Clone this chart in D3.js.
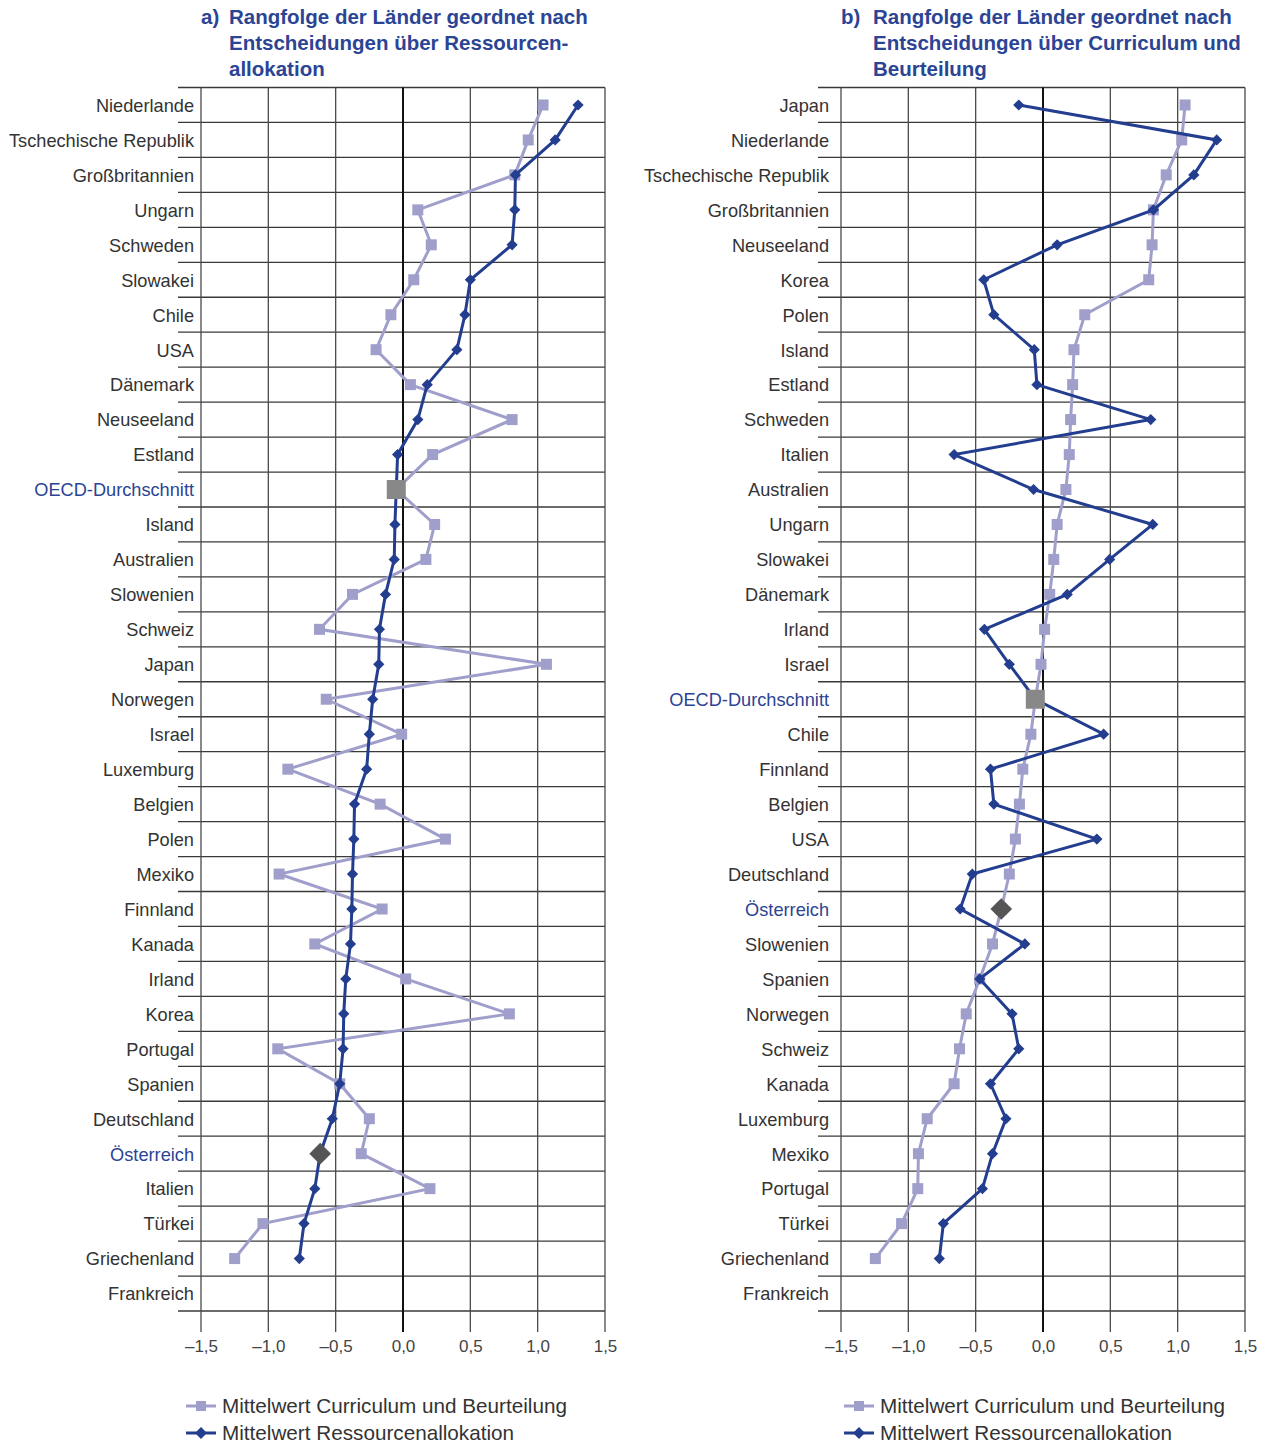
<!DOCTYPE html>
<html>
<head>
<meta charset="utf-8">
<script src="https://cdn.jsdelivr.net/npm/d3@7"></script>
<style>
  body { margin: 0; background: #fff; }
  svg { font-family: "Liberation Sans", Arial, sans-serif; }
</style>
</head>
<body>
<div id="chart"></div>
<script>
// panel a: ordered by Ressourcenallokation
const countriesA = ['Niederlande', 'Tschechische Republik', 'Großbritannien', 'Ungarn', 'Schweden', 'Slowakei',
  'Chile', 'USA', 'Dänemark', 'Neuseeland', 'Estland', 'OECD-Durchschnitt', 'Island', 'Australien', 'Slowenien',
  'Schweiz', 'Japan', 'Norwegen', 'Israel', 'Luxemburg', 'Belgien', 'Polen', 'Mexiko', 'Finnland', 'Kanada',
  'Irland', 'Korea', 'Portugal', 'Spanien', 'Deutschland', 'Österreich', 'Italien', 'Türkei', 'Griechenland', 'Frankreich'];
const curriculumA = [1.04, 0.93, 0.83, 0.11, 0.21, 0.08, -0.09, -0.20, 0.055, 0.81, 0.22, -0.05, 0.235, 0.17, -0.375,
  -0.62, 1.065, -0.57, -0.01, -0.855, -0.17, 0.315, -0.92, -0.155, -0.655, 0.02, 0.79, -0.93, -0.47, -0.25,
  -0.31, 0.20, -1.04, -1.25, null];
const ressourcenA = [1.30, 1.13, 0.835, 0.83, 0.81, 0.50, 0.46, 0.40, 0.18, 0.11, -0.04, -0.05, -0.06, -0.065, -0.13,
  -0.175, -0.18, -0.225, -0.25, -0.27, -0.36, -0.365, -0.375, -0.38, -0.39, -0.425, -0.44, -0.445, -0.47, -0.525,
  -0.615, -0.655, -0.735, -0.77, null];

// panel b: ordered by Curriculum und Beurteilung
const countriesB = ['Japan', 'Niederlande', 'Tschechische Republik', 'Großbritannien', 'Neuseeland', 'Korea', 'Polen',
  'Island', 'Estland', 'Schweden', 'Italien', 'Australien', 'Ungarn', 'Slowakei', 'Dänemark', 'Irland', 'Israel',
  'OECD-Durchschnitt', 'Chile', 'Finnland', 'Belgien', 'USA', 'Deutschland', 'Österreich', 'Slowenien', 'Spanien',
  'Norwegen', 'Schweiz', 'Kanada', 'Luxemburg', 'Mexiko', 'Portugal', 'Türkei', 'Griechenland', 'Frankreich'];
const curriculumB = [1.055, 1.03, 0.915, 0.82, 0.81, 0.785, 0.31, 0.23, 0.22, 0.205, 0.195, 0.17, 0.105, 0.08, 0.05,
  0.012, -0.015, -0.057, -0.09, -0.15, -0.175, -0.205, -0.25, -0.31, -0.375, -0.47, -0.57, -0.62, -0.66, -0.86,
  -0.925, -0.93, -1.05, -1.245, null];
const ressourcenB = [-0.18, 1.29, 1.12, 0.82, 0.105, -0.44, -0.365, -0.065, -0.045, 0.80, -0.66, -0.07, 0.815, 0.495,
  0.18, -0.435, -0.25, -0.057, 0.45, -0.39, -0.365, 0.40, -0.525, -0.615, -0.135, -0.47, -0.23, -0.18, -0.39, -0.275,
  -0.375, -0.45, -0.74, -0.77, null];

const xTicks = [-1.5, -1.0, -0.5, 0, 0.5, 1.0, 1.5];
const legendLabels = ['Mittelwert Curriculum und Beurteilung', 'Mittelwert Ressourcenallokation'];

const width = 1270, height = 1445;
const plotTop = 87.5, plotBottom = 1311;
const lightColor = '#a09fcb', darkColor = '#233d8f', blueText = '#2b4494', textColor = '#333';

const svg = d3.select('#chart').append('svg')
  .attr('width', width).attr('height', height);

const fmt = v => (v < 0 ? '\u2013' : '') + d3.format('.1f')(Math.abs(v)).replace('.', ',');

function drawPanel(p) {
  const x = d3.scaleLinear().domain([-1.5, 1.5]).range([p.left, p.left + 404]);
  const y = d3.scaleBand().domain(p.cats).range([plotTop, plotBottom]);
  const g = svg.append('g');

  // title
  const title = g.append('text').attr('fill', blueText).style('font-size', '20.5px').style('font-weight', 'bold');
  title.append('tspan').attr('x', p.left).attr('y', 24).text(p.letter);
  p.title.forEach((t, i) => {
    title.append('tspan').attr('x', p.left + p.titleOff).attr('y', 24 + i * 26).text(t);
  });

  // horizontal row lines
  const rowEdges = p.cats.map(c => y(c)).concat([plotBottom]);
  g.selectAll('.hline').data(rowEdges).enter().append('line')
    .attr('x1', p.left - 23).attr('x2', x(1.5))
    .attr('y1', d => d).attr('y2', d => d)
    .attr('stroke', '#3a3a3a').attr('stroke-width', 1.3);

  // vertical grid lines + ticks
  g.selectAll('.vline').data(xTicks).enter().append('line')
    .attr('x1', d => x(d)).attr('x2', d => x(d))
    .attr('y1', plotTop).attr('y2', plotBottom + 21)
    .attr('stroke', d => d === 0 ? '#111' : '#4a4a4a')
    .attr('stroke-width', d => d === 0 ? 2 : 1.3);

  const xAxis = g.append('g').attr('transform', `translate(0, ${plotBottom})`)
    .call(d3.axisBottom(x).tickValues(xTicks).tickSize(0).tickPadding(29).tickFormat(fmt));
  xAxis.select('.domain').remove();
  xAxis.selectAll('text').style('font-size', '17px').attr('fill', '#444');

  // country labels
  const yAxis = g.append('g').attr('transform', `translate(${p.left}, 1)`)
    .call(d3.axisLeft(y).tickSize(0).tickPadding(p.pad));
  yAxis.select('.domain').remove();
  yAxis.selectAll('text').style('font-size', '18.2px')
    .attr('fill', d => (d === 'OECD-Durchschnitt' || d === 'Österreich') ? blueText : textColor);

  const cy = c => y(c) + y.bandwidth() / 2;
  const line = d3.line()
    .defined(d => d.v !== null)
    .x(d => x(d.v)).y(d => cy(d.c));

  const curr = p.cats.map((c, i) => ({c: c, v: p.curr[i]}));
  const ress = p.cats.map((c, i) => ({c: c, v: p.ress[i]}));

  g.append('path').datum(curr).attr('d', line)
    .attr('fill', 'none').attr('stroke', lightColor).attr('stroke-width', 3);
  g.selectAll('.sq').data(curr.filter(d => d.v !== null)).enter().append('rect')
    .attr('x', d => x(d.v) - 5.5).attr('y', d => cy(d.c) - 5.5)
    .attr('width', 11).attr('height', 11).attr('fill', lightColor);

  g.append('path').datum(ress).attr('d', line)
    .attr('fill', 'none').attr('stroke', darkColor).attr('stroke-width', 3);
  g.selectAll('.dm').data(ress.filter(d => d.v !== null)).enter().append('path')
    .attr('d', d3.symbol().type(d3.symbolDiamond2).size(80))
    .attr('transform', d => `translate(${x(d.v)}, ${cy(d.c)})`)
    .attr('fill', darkColor);

  // highlighted OECD average and Österreich
  const ref = p.key === 'ress' ? ress : curr;
  const oecd = ref.find(d => d.c === 'OECD-Durchschnitt');
  g.append('rect')
    .attr('x', x(oecd.v) - 9.5).attr('y', cy(oecd.c) - 9.5)
    .attr('width', 19).attr('height', 19).attr('fill', '#888');
  const at = ref.find(d => d.c === 'Österreich');
  g.append('path')
    .attr('d', d3.symbol().type(d3.symbolDiamond2).size(300))
    .attr('transform', `translate(${x(at.v)}, ${cy(at.c)})`)
    .attr('fill', '#555');

  // legend
  const lg = g.append('g');
  legendLabels.forEach((t, i) => {
    const ly = 1406 + i * 27;
    const lx = p.legendX;
    lg.append('line').attr('x1', lx - 15).attr('x2', lx + 15)
      .attr('y1', ly).attr('y2', ly)
      .attr('stroke', i === 0 ? lightColor : darkColor).attr('stroke-width', 3);
    if (i === 0) {
      lg.append('rect').attr('x', lx - 5).attr('y', ly - 5).attr('width', 10).attr('height', 10).attr('fill', lightColor);
    } else {
      lg.append('path').attr('d', d3.symbol().type(d3.symbolDiamond2).size(90))
        .attr('transform', `translate(${lx}, ${ly})`).attr('fill', darkColor);
    }
    lg.append('text').attr('x', lx + 21).attr('y', ly + 7)
      .style('font-size', '20.7px').attr('fill', textColor).text(t);
  });
}

drawPanel({
  left: 201, pad: 7, letter: 'a)', key: 'ress', titleOff: 28, legendX: 201,
  title: ['Rangfolge der Länder geordnet nach', 'Entscheidungen über Ressourcen-', 'allokation'],
  cats: countriesA, curr: curriculumA, ress: ressourcenA
});
drawPanel({
  left: 841, pad: 12, letter: 'b)', key: 'curr', titleOff: 32, legendX: 859,
  title: ['Rangfolge der Länder geordnet nach', 'Entscheidungen über Curriculum und', 'Beurteilung'],
  cats: countriesB, curr: curriculumB, ress: ressourcenB
});
</script>
</body>
</html>
